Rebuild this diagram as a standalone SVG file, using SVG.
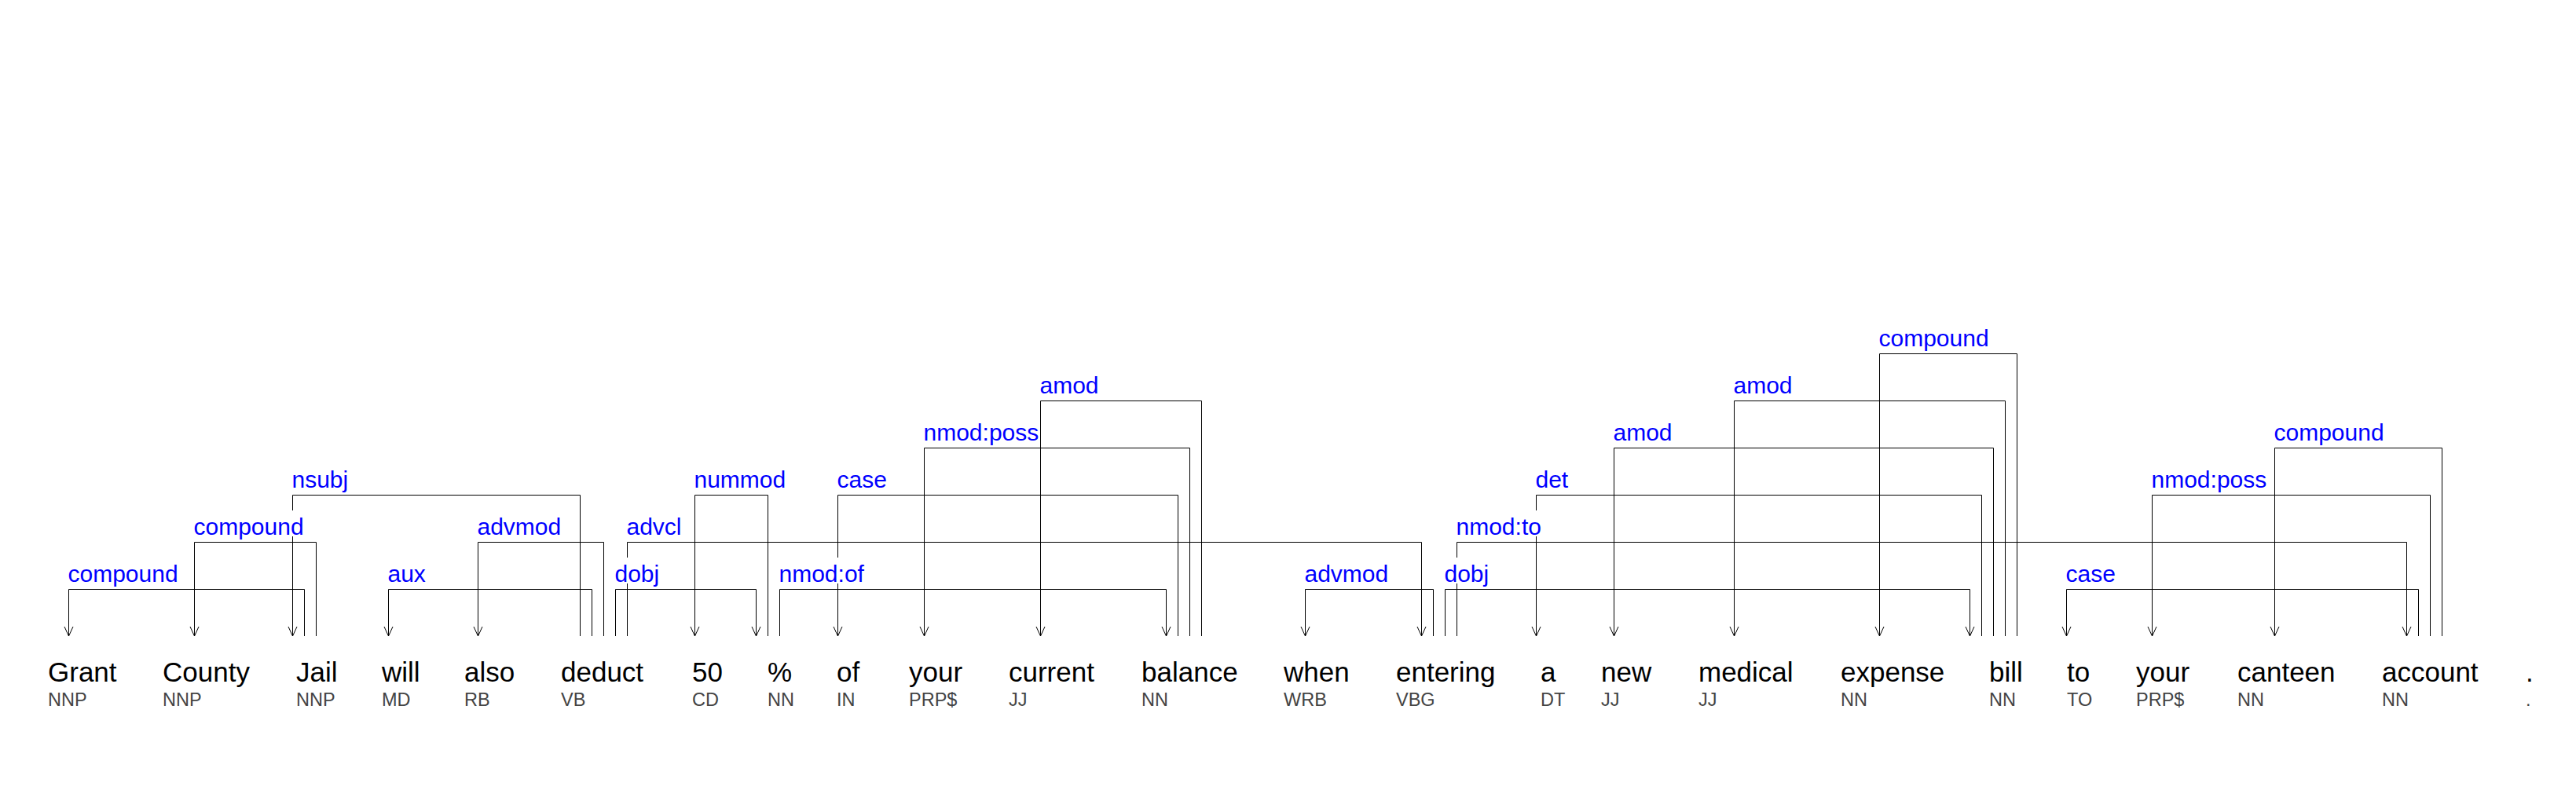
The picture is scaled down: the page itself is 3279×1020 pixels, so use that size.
<svg xmlns="http://www.w3.org/2000/svg" width="3279" height="1020" viewBox="0 0 3279 1020">
<style>
.word{font-family:"Liberation Sans",Arial,sans-serif;font-size:35px;fill:#000}
.tag{font-family:"Liberation Sans",Arial,sans-serif;font-size:23.5px;fill:#444}
.lbl{font-family:"Liberation Sans",Arial,sans-serif;font-size:30px;fill:#0000ff}
.bg{fill:#fff}
.e{fill:none;stroke:#000;stroke-width:1}
.ea{fill:none;stroke:#000;stroke-width:1;marker-end:url(#arr)}
</style>
<defs>
<marker id="arr" markerWidth="14" markerHeight="12" refX="13" refY="6" orient="auto" markerUnits="userSpaceOnUse" viewBox="0 0 14 12" overflow="visible"><path d="M1,0.5 L13,6 L1,11.5" fill="none" stroke="#000" stroke-width="1"/></marker>
</defs>
<rect width="3279" height="1020" fill="#fff"/>
<g id="connectors">
<path class="ea" d="M387.5,810 V750.5 H87.5 V810"/>
<path class="ea" d="M402.5,810 V690.5 H247.5 V810"/>
<path class="ea" d="M738.5,810 V630.5 H372.5 V810"/>
<path class="ea" d="M753.5,810 V750.5 H494.5 V810"/>
<path class="ea" d="M768.5,810 V690.5 H608.5 V810"/>
<path class="ea" d="M783.5,810 V750.5 H962.5 V810"/>
<path class="ea" d="M798.5,810 V690.5 H1809.5 V810"/>
<path class="ea" d="M977.5,810 V630.5 H884.5 V810"/>
<path class="ea" d="M992.5,810 V750.5 H1484.5 V810"/>
<path class="ea" d="M1499.5,810 V630.5 H1066.5 V810"/>
<path class="ea" d="M1514.5,810 V570.5 H1176.5 V810"/>
<path class="ea" d="M1529.5,810 V510.5 H1324.5 V810"/>
<path class="ea" d="M1824.5,810 V750.5 H1661.5 V810"/>
<path class="ea" d="M1839.5,810 V750.5 H2507.5 V810"/>
<path class="ea" d="M1854.5,810 V690.5 H3063.5 V810"/>
<path class="ea" d="M2522.5,810 V630.5 H1955.5 V810"/>
<path class="ea" d="M2537.5,810 V570.5 H2054.5 V810"/>
<path class="ea" d="M2552.5,810 V510.5 H2207.5 V810"/>
<path class="ea" d="M2567.5,810 V450.5 H2392.5 V810"/>
<path class="ea" d="M3078.5,810 V750.5 H2630.5 V810"/>
<path class="ea" d="M3093.5,810 V630.5 H2739.5 V810"/>
<path class="ea" d="M3108.5,810 V570.5 H2895.5 V810"/>
<g id="edge-labels">
<rect class="bg" x="86" y="710" width="141" height="33"/><text class="lbl" x="86.5" y="741">compound</text>
<rect class="bg" x="246" y="650" width="141" height="33"/><text class="lbl" x="246.5" y="681">compound</text>
<rect class="bg" x="371" y="590" width="72" height="33"/><text class="lbl" x="371.5" y="621">nsubj</text>
<rect class="bg" x="493" y="710" width="49" height="33"/><text class="lbl" x="493.5" y="741">aux</text>
<rect class="bg" x="607" y="650" width="107" height="33"/><text class="lbl" x="607.5" y="681">advmod</text>
<rect class="bg" x="782" y="710" width="57" height="33"/><text class="lbl" x="782.5" y="741">dobj</text>
<rect class="bg" x="797" y="650" width="71" height="33"/><text class="lbl" x="797.5" y="681">advcl</text>
<rect class="bg" x="883" y="590" width="117" height="33"/><text class="lbl" x="883.5" y="621">nummod</text>
<rect class="bg" x="991" y="710" width="109" height="33"/><text class="lbl" x="991.5" y="741">nmod:of</text>
<rect class="bg" x="1065" y="590" width="64" height="33"/><text class="lbl" x="1065.5" y="621">case</text>
<rect class="bg" x="1175" y="530" width="147" height="33"/><text class="lbl" x="1175.5" y="561">nmod:poss</text>
<rect class="bg" x="1323" y="470" width="76" height="33"/><text class="lbl" x="1323.5" y="501">amod</text>
<rect class="bg" x="1660" y="710" width="107" height="33"/><text class="lbl" x="1660.5" y="741">advmod</text>
<rect class="bg" x="1838" y="710" width="57" height="33"/><text class="lbl" x="1838.5" y="741">dobj</text>
<rect class="bg" x="1853" y="650" width="109" height="33"/><text class="lbl" x="1853.5" y="681">nmod:to</text>
<rect class="bg" x="1954" y="590" width="42" height="33"/><text class="lbl" x="1954.5" y="621">det</text>
<rect class="bg" x="2053" y="530" width="76" height="33"/><text class="lbl" x="2053.5" y="561">amod</text>
<rect class="bg" x="2206" y="470" width="76" height="33"/><text class="lbl" x="2206.5" y="501">amod</text>
<rect class="bg" x="2391" y="410" width="141" height="33"/><text class="lbl" x="2391.5" y="441">compound</text>
<rect class="bg" x="2629" y="710" width="64" height="33"/><text class="lbl" x="2629.5" y="741">case</text>
<rect class="bg" x="2738" y="590" width="147" height="33"/><text class="lbl" x="2738.5" y="621">nmod:poss</text>
<rect class="bg" x="2894" y="530" width="141" height="33"/><text class="lbl" x="2894.5" y="561">compound</text>
</g>
</g>
<g id="w1"><text class="word" x="61" y="868">Grant</text><text class="tag" x="61" y="899">NNP</text></g>
<g id="w2"><text class="word" x="207" y="868">County</text><text class="tag" x="207" y="899">NNP</text></g>
<g id="w3"><text class="word" x="377" y="868">Jail</text><text class="tag" x="377" y="899">NNP</text></g>
<g id="w4"><text class="word" x="486" y="868">will</text><text class="tag" x="486" y="899">MD</text></g>
<g id="w5"><text class="word" x="591" y="868">also</text><text class="tag" x="591" y="899">RB</text></g>
<g id="w6"><text class="word" x="714" y="868">deduct</text><text class="tag" x="714" y="899">VB</text></g>
<g id="w7"><text class="word" x="881" y="868">50</text><text class="tag" x="881" y="899">CD</text></g>
<g id="w8"><text class="word" x="977" y="868">%</text><text class="tag" x="977" y="899">NN</text></g>
<g id="w9"><text class="word" x="1065" y="868">of</text><text class="tag" x="1065" y="899">IN</text></g>
<g id="w10"><text class="word" x="1157" y="868">your</text><text class="tag" x="1157" y="899">PRP$</text></g>
<g id="w11"><text class="word" x="1284" y="868">current</text><text class="tag" x="1284" y="899">JJ</text></g>
<g id="w12"><text class="word" x="1453" y="868">balance</text><text class="tag" x="1453" y="899">NN</text></g>
<g id="w13"><text class="word" x="1634" y="868">when</text><text class="tag" x="1634" y="899">WRB</text></g>
<g id="w14"><text class="word" x="1777" y="868">entering</text><text class="tag" x="1777" y="899">VBG</text></g>
<g id="w15"><text class="word" x="1961" y="868">a</text><text class="tag" x="1961" y="899">DT</text></g>
<g id="w16"><text class="word" x="2038" y="868">new</text><text class="tag" x="2038" y="899">JJ</text></g>
<g id="w17"><text class="word" x="2162" y="868">medical</text><text class="tag" x="2162" y="899">JJ</text></g>
<g id="w18"><text class="word" x="2343" y="868">expense</text><text class="tag" x="2343" y="899">NN</text></g>
<g id="w19"><text class="word" x="2532" y="868">bill</text><text class="tag" x="2532" y="899">NN</text></g>
<g id="w20"><text class="word" x="2631" y="868">to</text><text class="tag" x="2631" y="899">TO</text></g>
<g id="w21"><text class="word" x="2719" y="868">your</text><text class="tag" x="2719" y="899">PRP$</text></g>
<g id="w22"><text class="word" x="2848" y="868">canteen</text><text class="tag" x="2848" y="899">NN</text></g>
<g id="w23"><text class="word" x="3032" y="868">account</text><text class="tag" x="3032" y="899">NN</text></g>
<g id="w24"><text class="word" x="3215" y="868">.</text><text class="tag" x="3215" y="899">.</text></g>
</svg>
